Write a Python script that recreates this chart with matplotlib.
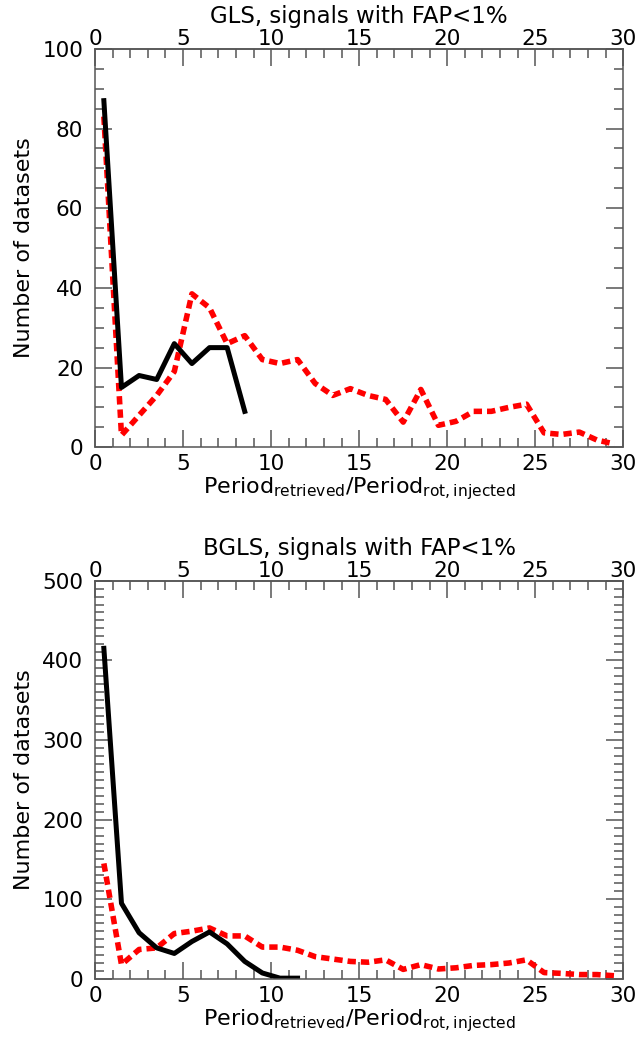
import matplotlib
matplotlib.use("Agg")
import matplotlib.pyplot as plt
from matplotlib.ticker import MultipleLocator

plt.rcParams['mathtext.default'] = 'regular'

# bin centres (period ratio)
x_all = [i + 0.5 for i in range(30)]

# GLS, FAP<1%
gls_black = [87, 15, 18, 17, 26, 21, 25, 25, 9]
gls_red = [83, 3, 8, 13, 19, 38.5, 35, 26, 28, 22, 21, 22, 16, 13, 14.7, 13, 12, 6.3,
           14.5, 5.5, 6.5, 9, 9, 10, 10.8, 3.6, 3.2, 3.8, 1.8, 0.8]

# BGLS, FAP<1%
bgls_black = [415, 95, 58, 39, 32, 47, 59, 44, 22, 7.5, 1, 1]
bgls_red = [145, 18, 37, 39, 57, 60, 64, 54, 54, 40, 40, 36, 28, 25, 22, 21, 24, 12,
            18, 12.5, 14, 17, 18, 20, 24, 8, 7, 5.5, 5.5, 4]

panels = [
    ("GLS, signals with FAP<1%", gls_black, gls_red, 100, 20, 5),
    ("BGLS, signals with FAP<1%", bgls_black, bgls_red, 500, 100, 10),
]

fig = plt.figure(figsize=(6.38, 10.4), dpi=100)
boxes = [[0.149, 0.570, 0.828, 0.383], [0.149, 0.0587, 0.828, 0.383]]
frame = '#555555'

for box, (title, black, red, ymax, ymaj, ymin) in zip(boxes, panels):
    ax = fig.add_axes(box)
    ax.plot(x_all[:len(red)], red, color='red', linewidth=4.0, dashes=(1.5, 0.9))
    ax.plot(x_all[:len(black)], black, color='black', linewidth=3.6)
    ax.set_xlim(0, 30)
    ax.set_ylim(0, ymax)
    ax.xaxis.set_major_locator(MultipleLocator(5))
    ax.xaxis.set_minor_locator(MultipleLocator(1))
    ax.yaxis.set_major_locator(MultipleLocator(ymaj))
    ax.yaxis.set_minor_locator(MultipleLocator(ymin))
    ax.tick_params(which='both', direction='in', top=False, right=True,
                   labelsize=15.5, color=frame, width=1.1)
    ax.tick_params(axis='x', which='both', pad=5)
    ax.tick_params(axis='y', which='both', pad=8.5)
    ax.tick_params(which='major', length=12)
    ax.tick_params(which='minor', length=6.5)
    for sp in ax.spines.values():
        sp.set_color(frame)
        sp.set_linewidth(1.1)

    # top axis with its own labels
    top = ax.secondary_xaxis('top')
    top.xaxis.set_major_locator(MultipleLocator(5))
    top.xaxis.set_minor_locator(MultipleLocator(1))
    top.tick_params(which='both', direction='in', labelsize=15.5, color=frame,
                    width=1.1, pad=0)
    top.tick_params(which='major', length=12)
    top.tick_params(which='minor', length=6.5)
    top.spines['top'].set_color(frame)
    top.spines['top'].set_linewidth(1.1)

    ax.set_title(title, fontsize=16.5, pad=4)
    ax.set_xlabel('Period$_{retrieved}$/Period$_{rot,injected}$', fontsize=16, labelpad=1)
    ax.set_ylabel('Number of datasets', fontsize=16, labelpad=6)

fig.savefig('out.png', dpi=100)
